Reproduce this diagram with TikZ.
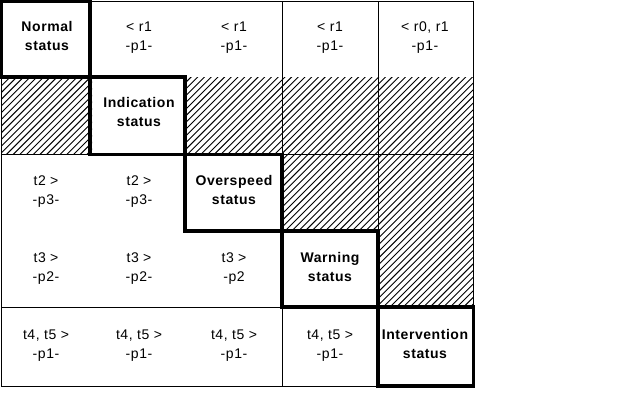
\documentclass[tikz,border=0pt]{standalone}
\usepackage{fontspec}
\setmainfont{Liberation Sans}[LetterSpace=4]
\begin{document}
\begin{tikzpicture}[x=0.75pt,y=-0.75pt,
  thinl/.style={line width=0.75pt, line cap=rect},
  hatchline/.style={line width=0.7pt},
  thickbox/.style={draw, line width=2.6pt, line join=miter},
  lbl/.style={align=center, inner sep=0pt, yshift=-1.2pt, font=\fontsize{10.5}{14.5}\selectfont},
  st/.style={align=center, inner sep=0pt, font=\fontsize{10.5}{14.25}\selectfont\bfseries}]
\fill[white] (0,0) rectangle (623,412);
\useasboundingbox (0,0) rectangle (623,412);
% hatched cells
\begin{scope}
  \clip (1,77) rectangle (92,154) (186,77) rectangle (473,154)
        (282,154) rectangle (473,231) (378,231) rectangle (473,307);
  \foreach \s in {-420,-413.3,...,480} \draw[hatchline] (\s,400) -- ++(420,-420);
\end{scope}
% thin grid lines
\draw[thinl] (1,1) -- (473,1);
\draw[thinl] (1,1) -- (1,386) -- (378,386);
\draw[thinl] (473,1) -- (473,307);
\draw[thinl] (282,1) -- (282,154);
\draw[thinl] (282,307) -- (282,386);
\draw[thinl] (378,1) -- (378,231);
\draw[thinl] (1,154) -- (92,154);
\draw[thinl] (282,154) -- (473,154);
\draw[thinl] (1,307) -- (282,307);
% status boxes
\draw[thickbox] (1.5,1.5) rectangle (90,77);
\draw[thickbox] (90,77) rectangle (185,154.5);
\draw[thickbox] (185,154.5) rectangle (282,231);
\draw[thickbox] (282,231) rectangle (378,307);
\draw[thickbox] (378,307) rectangle (473.5,386);
% status texts
\node[st] (normal) at (47,36) {Normal\\status};
\node[st] (indication) at (139,112) {Indication\\status};
\node[st] (overspeed) at (234,190) {Overspeed\\status};
\node[st] (warning) at (330,267) {Warning\\status};
\node[st] (intervention) at (425,344) {Intervention\\status};
% row 1
\node[lbl] (r1c2) at (139,36) {< r1\\-p1-};
\node[lbl] (r1c3) at (234,36) {< r1\\-p1-};
\node[lbl] (r1c4) at (330,36) {< r1\\-p1-};
\node[lbl] (r1c5) at (425,36) {< r0, r1\\-p1-};
% row 3
\node[lbl] (r3c1) at (46,190) {t2 >\\-p3-};
\node[lbl] (r3c2) at (139,190) {t2 >\\-p3-};
% row 4
\node[lbl] (r4c1) at (46,267) {t3 >\\-p2-};
\node[lbl] (r4c2) at (139,267) {t3 >\\-p2-};
\node[lbl] (r4c3) at (234,267) {t3 >\\-p2};
% row 5
\node[lbl] (r5c1) at (46,344) {t4, t5 >\\-p1-};
\node[lbl] (r5c2) at (139,344) {t4, t5 >\\-p1-};
\node[lbl] (r5c3) at (234,344) {t4, t5 >\\-p1-};
\node[lbl] (r5c4) at (330,344) {t4, t5 >\\-p1-};
\end{tikzpicture}
\end{document}
